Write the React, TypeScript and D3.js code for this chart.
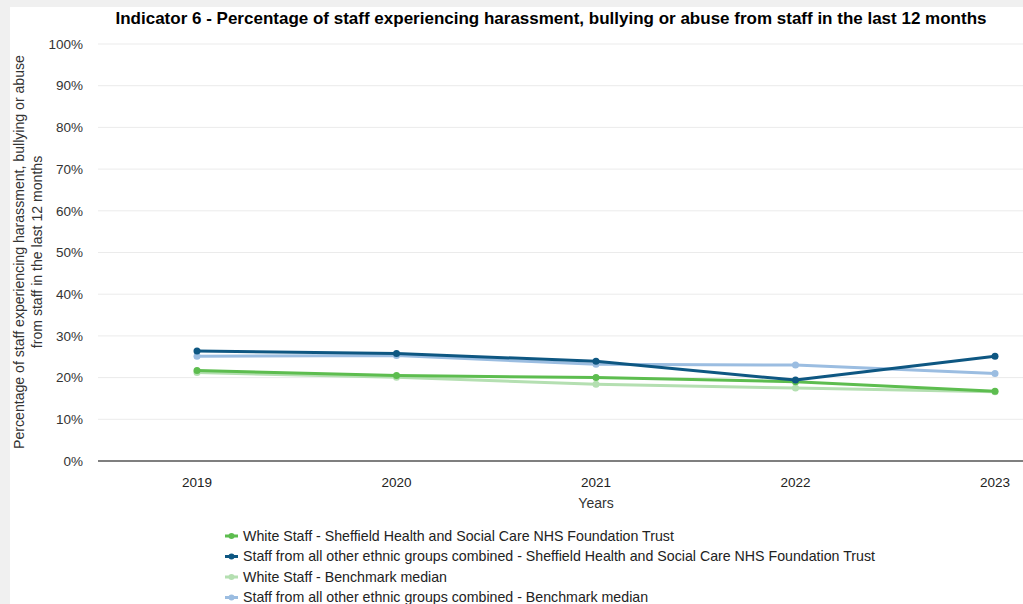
import React from "react";
import * as d3 from "d3";

const years = ["2019", "2020", "2021", "2022", "2023"];
const whiteTrust = [21.7, 20.5, 20.0, 19.0, 16.7];
const bmeTrust = [26.4, 25.8, 23.9, 19.4, 25.1];
const whiteBench = [21.2, 20.1, 18.4, 17.5, 16.6];
const bmeBench = [25.1, 25.3, 23.2, 23.0, 21.0];
const yTicks = [0, 10, 20, 30, 40, 50, 60, 70, 80, 90, 100];

const seriesNames = [
  "White Staff - Sheffield Health and Social Care NHS Foundation Trust",
  "Staff from all other ethnic groups combined - Sheffield Health and Social Care NHS Foundation Trust",
  "White Staff - Benchmark median",
  "Staff from all other ethnic groups combined - Benchmark median",
];
const seriesColors = ["#5dbd4f", "#0e5782", "#b4dfb1", "#9bbde1"];
const seriesValues = [whiteTrust, bmeTrust, whiteBench, bmeBench];
const drawOrder = [2, 3, 0, 1];

export default function App() {
  const W = 1023, H = 604;
  const left = 98, top = 44, bottom = 461;
  const x = d3.scalePoint<string>().domain(years).range([197, 995]);
  const y = d3.scaleLinear().domain([0, 100]).range([bottom, top]);
  const line = d3
    .line<number>()
    .x((_, i) => x(years[i]) as number)
    .y((d) => y(d));
  const font = "Arial, 'Liberation Sans', sans-serif";

  return (
    <svg
      width={W}
      height={H}
      style={{ position: "absolute", left: 0, top: 0, fontFamily: font }}
    >
      <rect x={0} y={0} width={W} height={H} fill="#f0f0f0" />
      <rect x={10} y={7} width={W - 10} height={H - 7} fill="#ffffff" />
      <text
        x={551}
        y={24}
        textAnchor="middle"
        fontSize={17}
        fontWeight="bold"
        fill="#000"
      >
        Indicator 6 - Percentage of staff experiencing harassment, bullying or abuse from staff in the last 12 months
      </text>
      {yTicks.map((t) => (
        <g key={t}>
          {t > 0 && (
            <line x1={left} x2={W} y1={y(t)} y2={y(t)} stroke="#ebebeb" strokeWidth={1} />
          )}
          <text
            x={83}
            y={y(t)}
            dy="0.35em"
            textAnchor="end"
            fontSize={13.5}
            fill="#333"
          >
            {t}%
          </text>
        </g>
      ))}
      <line x1={left} x2={W} y1={y(0)} y2={y(0)} stroke="#555" strokeWidth={1.5} />
      {years.map((yr) => (
        <text
          key={yr}
          x={x(yr) as number}
          y={482}
          dy="0.35em"
          textAnchor="middle"
          fontSize={13.5}
          fill="#222"
        >
          {yr}
        </text>
      ))}
      <text x={596} y={503} dy="0.35em" textAnchor="middle" fontSize={14} fill="#333">
        Years
      </text>
      <g transform="translate(19,252) rotate(-90)">
        <text x={0} y={0} dy="0.35em" textAnchor="middle" fontSize={14.1} fill="#333">
          Percentage of staff experiencing harassment, bullying or abuse
        </text>
        <text x={0} y={18} dy="0.35em" textAnchor="middle" fontSize={14.1} fill="#333">
          from staff in the last 12 months
        </text>
      </g>
      {drawOrder.map((si) => (
        <g key={si}>
          <path
            d={line(seriesValues[si]) || ""}
            fill="none"
            stroke={seriesColors[si]}
            strokeWidth={3}
            strokeLinejoin="round"
          />
          {seriesValues[si].map((v, i) => (
            <circle
              key={i}
              cx={x(years[i]) as number}
              cy={y(v)}
              r={3.5}
              fill={seriesColors[si]}
            />
          ))}
        </g>
      ))}
      {seriesNames.map((name, i) => {
        const cy = 536 + i * 20.5;
        return (
          <g key={name}>
            <line x1={225} x2={238} y1={cy} y2={cy} stroke={seriesColors[i]} strokeWidth={3} />
            <circle cx={231.5} cy={cy} r={3} fill={seriesColors[i]} />
            <text x={243} y={cy} dy="0.35em" fontSize={14.2} fill="#222">
              {name}
            </text>
          </g>
        );
      })}
    </svg>
  );
}
